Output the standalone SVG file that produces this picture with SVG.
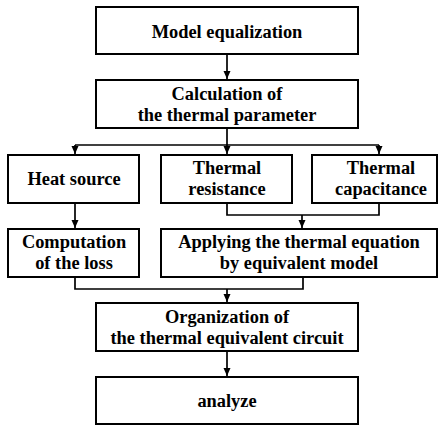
<svg xmlns="http://www.w3.org/2000/svg" width="439" height="425" viewBox="0 0 439 425" font-family="'Liberation Serif', 'Times New Roman', Times, 'DejaVu Serif', serif">
<defs>
<style>
.box{fill:#fff;stroke:#000;stroke-width:2}
.ln{fill:none;stroke:#000;stroke-width:1.7}
.t{font-family:'Liberation Serif','Times New Roman',Times,'DejaVu Serif',serif;font-weight:bold;font-size:18.4px;fill:#000;text-anchor:middle}
</style>
<marker id="ah" viewBox="0 0 8 8" refX="8" refY="4" markerWidth="8" markerHeight="8" markerUnits="userSpaceOnUse" orient="auto">
<path d="M0,0.5 L8,4 L0,7.5 z" fill="#000"/>
</marker>
</defs>
<rect width="439" height="425" fill="#fff"/>
<g id="connectors">
<path class="ln" d="M227,54 V79" marker-end="url(#ah)"/>
<path class="ln" d="M227,128 V145"/>
<path class="ln" d="M75,145 H379"/>
<path class="ln" d="M75,145 V154" marker-end="url(#ah)"/>
<path class="ln" d="M227,145 V154" marker-end="url(#ah)"/>
<path class="ln" d="M379,145 V154" marker-end="url(#ah)"/>
<path class="ln" d="M75,203 V228" marker-end="url(#ah)"/>
<path class="ln" d="M227,203 V215 H379 V203"/>
<path class="ln" d="M302,215 V228" marker-end="url(#ah)"/>
<path class="ln" d="M75,277 V289 H303 V277"/>
<path class="ln" d="M227,289 V302" marker-end="url(#ah)"/>
<path class="ln" d="M227,351 V376" marker-end="url(#ah)"/>
</g>
<g id="model-equalization">
<rect class="box" x="96" y="7" width="262" height="47"/>
<text class="t" x="227" y="38">Model equalization</text>
</g>
<g id="calculation">
<rect class="box" x="96" y="80" width="262" height="48"/>
<text class="t" x="227" y="100">Calculation of</text>
<text class="t" x="227" y="121">the thermal parameter</text>
</g>
<g id="heat-source">
<rect class="box" x="8" y="155" width="131" height="48"/>
<text class="t" x="74" y="185">Heat source</text>
</g>
<g id="thermal-resistance">
<rect class="box" x="161" y="155" width="131" height="48"/>
<text class="t" x="227" y="174">Thermal</text>
<text class="t" x="227" y="195">resistance</text>
</g>
<g id="thermal-capacitance">
<rect class="box" x="312" y="155" width="125" height="48"/>
<text class="t" x="381" y="174">Thermal</text>
<text class="t" x="381" y="195">capacitance</text>
</g>
<g id="computation-loss">
<rect class="box" x="8" y="229" width="131" height="48"/>
<text class="t" x="74" y="248">Computation</text>
<text class="t" x="74" y="269">of the loss</text>
</g>
<g id="applying-equation">
<rect class="box" x="161" y="229" width="276" height="48"/>
<text class="t" x="299" y="248">Applying the thermal equation</text>
<text class="t" x="299" y="269">by equivalent model</text>
</g>
<g id="organization">
<rect class="box" x="96" y="303" width="262" height="48"/>
<text class="t" x="227" y="323">Organization of</text>
<text class="t" x="227" y="344">the thermal equivalent circuit</text>
</g>
<g id="analyze">
<rect class="box" x="96" y="377" width="262" height="47"/>
<text class="t" x="227" y="407">analyze</text>
</g>
</svg>
